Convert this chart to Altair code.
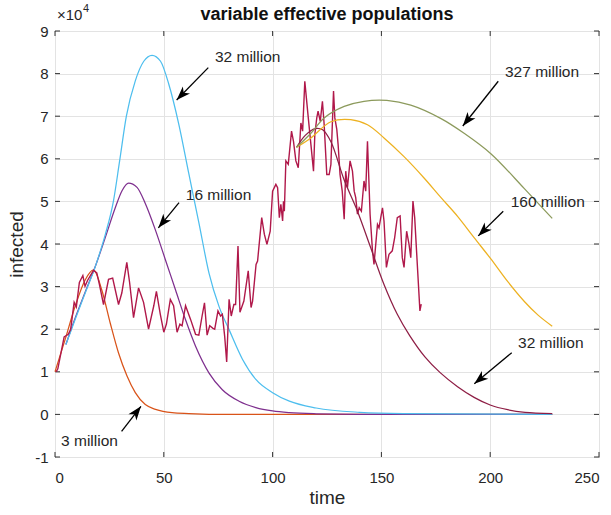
import math
import altair as alt
import pandas as pd

# ---------------- data (values in units of 1e4) ----------------
noise_t = [0.5, 1.3, 4.2, 6.1, 7.2, 8.8, 9.8, 11.2, 12.8, 13.8,
           15.0, 17.7, 19.2, 20.4, 22.3, 24.6, 26.5, 29.2, 30.7, 33.0,
           34.3, 36.1, 38.4, 40.7, 43.0, 45.4, 46.6, 48.4, 50.0, 51.2,
           53.0, 54.5, 56.1, 57.4, 58.4, 60.0, 62.3, 64.6, 66.1, 67.6,
           68.7, 69.9, 71.1, 72.6, 73.4, 74.9, 76.1, 76.9, 78.0, 78.9,
           80.0, 81.0, 82.2, 83.0, 84.1, 85.0, 86.8, 88.8, 90.1, 90.8,
           92.4, 93.1, 95.0, 96.2, 97.4, 98.9, 100.0, 101.5, 102.3, 103.1,
           103.8, 104.6, 105.0, 105.4, 106.1, 107.2, 108.7, 109.6, 110.7, 111.8,
           113.0, 113.8, 114.8, 116.1, 117.0, 117.6, 118.8, 119.4, 120.3, 120.9,
           121.9, 122.9, 123.7, 124.9, 126.0, 126.8, 128.0, 128.6, 129.5, 130.1,
           131.0, 132.0, 132.9, 133.6, 134.4, 135.6, 136.7, 137.5, 138.2, 139.0,
           139.8, 140.8, 142.0, 142.8, 143.6, 144.8, 145.9, 146.6, 148.2, 148.9,
           149.7, 150.5, 151.2, 152.3, 153.5, 155.0, 156.1, 157.3, 158.6, 159.6,
           160.4, 161.6, 162.7, 163.5, 164.5, 165.3, 166.5, 167.7, 168.3]
noise_y = [1.0, 1.07, 1.82, 1.88, 2.0, 2.63, 2.52, 3.1, 3.26, 3.01,
           3.15, 3.38, 3.32, 3.05, 2.58, 3.17, 3.2, 2.58, 2.85, 3.57,
           3.09, 2.27, 2.97, 2.63, 2.0, 2.55, 2.89, 2.35, 1.93, 2.12,
           2.7, 2.55, 1.93, 2.12, 2.08, 2.55, 2.23, 1.88, 1.86, 2.31,
           2.62, 1.86, 2.08, 2.02, 2.0, 2.43, 2.31, 2.35, 1.82, 1.23,
           2.7, 2.31, 2.58, 2.58, 3.95, 2.4, 2.66, 3.37, 2.51, 2.66,
           3.52, 3.6, 4.62, 4.23, 3.99, 4.3, 5.24, 5.4, 5.32, 4.62,
           4.93, 4.54, 5.0, 4.77, 5.95, 5.87, 6.65, 6.41, 5.95, 5.79,
           6.84, 6.65, 7.82, 7.12, 6.65, 6.34, 5.71, 6.57, 6.96, 7.12,
           6.88, 7.35, 6.8, 5.63, 5.63, 5.87, 7.59, 6.96, 6.69, 6.34,
           5.63, 5.24, 4.58, 5.71, 5.32, 5.95, 5.71, 5.24, 5.09, 4.7,
           4.85, 4.77, 5.48, 5.24, 6.41, 4.7, 3.84, 3.52, 4.46, 4.38,
           4.62, 4.85, 4.54, 3.45, 3.76, 3.84, 4.15, 4.62, 4.66, 3.68,
           3.45, 4.3, 3.99, 3.68, 5.01, 4.62, 3.52, 2.43, 2.59]

m3_t = [0, 4.6, 9.2, 13.8, 17.7, 21.5, 25.4, 29.2, 33.1, 36.9, 41.5, 46.2, 53.8, 61.5, 80, 120, 228.5]
m3_y = [1.0, 1.75, 2.53, 3.15, 3.39, 2.92, 2.14, 1.44, 0.9, 0.51, 0.23, 0.12, 0.04, 0.02, 0.0, 0.0, 0.0]

m16_t = [5, 9.2, 13.8, 18.5, 23.1, 27.7, 30.8, 33.8, 37.7, 41.5, 46.2, 50.8, 55.4, 60, 64.6,
         70.8, 76.9, 84.6, 92.3, 100, 107.7, 120, 140, 228.5]
m16_y = [1.64, 2.25, 2.86, 3.47, 4.15, 4.85, 5.25, 5.43, 5.33, 4.95, 4.32, 3.62, 2.92, 2.22, 1.6,
         0.97, 0.58, 0.31, 0.16, 0.08, 0.04, 0.015, 0.003, 0.0]

m32_t = [5, 9.2, 13.8, 18.5, 23.1, 26.9, 29.7, 32.8, 36.9, 40.8, 44.6, 48.5, 52.3, 56.9, 61.5,
         66.2, 70.8, 75.4, 80, 86.2, 92.3, 100, 107.7, 120, 140, 160, 228.5]
m32_y = [1.64, 2.22, 2.84, 3.47, 4.22, 5.02, 5.95, 7.0, 7.83, 8.29, 8.43, 8.29, 7.75, 6.81, 5.65,
         4.48, 3.31, 2.53, 1.99, 1.29, 0.82, 0.51, 0.31, 0.15, 0.05, 0.02, 0.0]

w32_t = [111, 115, 119.5, 123, 126.8, 132.9, 139, 145.1, 151.2, 157.3, 163, 170, 177,
         185, 192.6, 200, 208, 216, 228.5]
w32_y = [6.27, 6.55, 6.71, 6.68, 6.4, 5.5, 4.77, 3.91, 3.05, 2.35, 1.85, 1.35, 0.98,
         0.65, 0.4, 0.22, 0.11, 0.05, 0.02]

w160_t = [111, 117.6, 126.8, 135.9, 143.6, 151.2, 160.4, 169.6, 177.2, 185, 192.6, 200.3, 208, 215.7, 222, 228.5]
w160_y = [6.27, 6.49, 6.87, 6.92, 6.80, 6.49, 6.05, 5.55, 5.1, 4.65, 4.15, 3.65, 3.12, 2.65, 2.33, 2.07]

w327_t = [111, 117.6, 123.7, 132.9, 142, 152.5, 163.5, 177.2, 188, 200.3, 215.7, 228.5]
w327_y = [6.27, 6.6, 6.96, 7.23, 7.35, 7.37, 7.26, 6.95, 6.6, 6.12, 5.3, 4.6]

ann_label = ["32 million", "16 million", "327 million", "160 million", "32 million", "3 million"]
ann_text_t = [73.5, 60.1, 206.8, 209.4, 212.8, 2.8]
ann_text_y = [8.38, 5.16, 8.04, 4.98, 1.68, -0.63]
arrow_tail_t = [70.45, 57.0, 203.7, 206.0, 209.9, 30.6]
arrow_tail_y = [8.14, 4.97, 7.82, 4.77, 1.45, -0.40]
arrow_tip_t = [55.9, 47.5, 187.4, 194.5, 192.7, 39.5]
arrow_tip_y = [7.38, 4.38, 6.77, 4.19, 0.72, 0.19]

x_ticks = [0, 50, 100, 150, 200, 250]
y_ticks = [-1, 0, 1, 2, 3, 4, 5, 6, 7, 8, 9]

TITLE = "variable effective populations"

# ---------------- style ----------------
W, H = 544, 426
FONT = "Liberation Sans"
TXT = "#262626"
GRID = "#e3e3e3"

xs = alt.Scale(domain=[0, 250], nice=False, zero=False)
ys = alt.Scale(domain=[-1, 9], nice=False, zero=False)

x_axis = alt.Axis(values=x_ticks, grid=True, gridColor=GRID, gridWidth=1, domain=False,
                  ticks=False, tickSize=0, labelFontSize=15, labelColor=TXT, labelFont=FONT,
                  labelPadding=13, labelExpr="'' + datum.value", title="time",
                  titleFontSize=19, titleFontWeight="normal", titleColor=TXT, titleFont=FONT,
                  titlePadding=3)
y_axis = alt.Axis(values=y_ticks, grid=True, gridColor=GRID, gridWidth=1, domain=False,
                  ticks=False, tickSize=0, labelFontSize=15, labelColor=TXT, labelFont=FONT,
                  labelPadding=7, labelExpr="'' + datum.value", title="infected",
                  titleFontSize=19, titleFontWeight="normal", titleColor=TXT, titleFont=FONT,
                  titlePadding=8)


def X(field="t"):
    return alt.X(f"{field}:Q", scale=xs, axis=x_axis)


def Y(field="y"):
    return alt.Y(f"{field}:Q", scale=ys, axis=y_axis)


def curve(t, y, color, width=1.25, interp="monotone"):
    d = pd.DataFrame({"t": t, "y": y})
    return alt.Chart(d).mark_line(color=color, strokeWidth=width, interpolate=interp).encode(
        x=X(), y=Y())


xt = pd.DataFrame({"t": x_ticks})
yt = pd.DataFrame({"y": y_ticks})
tick_len = 5
tick_col = "#333333"
ticks = [
    alt.Chart(xt).mark_rule(color=tick_col, strokeWidth=1).encode(
        x=X(), y=alt.value(H), y2=alt.value(H - tick_len)),
    alt.Chart(xt).mark_rule(color=tick_col, strokeWidth=1).encode(
        x=X(), y=alt.value(0), y2=alt.value(tick_len)),
    alt.Chart(yt).mark_rule(color=tick_col, strokeWidth=1).encode(
        y=Y(), x=alt.value(0), x2=alt.value(tick_len)),
    alt.Chart(yt).mark_rule(color=tick_col, strokeWidth=1).encode(
        y=Y(), x=alt.value(W), x2=alt.value(W - tick_len)),
]

# arrows
px_t = W / 250.0
px_y = H / 10.0
angles = []
for t0, y0, t1, y1 in zip(arrow_tail_t, arrow_tail_y, arrow_tip_t, arrow_tip_y):
    dx = (t1 - t0) * px_t
    dy = -(y1 - y0) * px_y
    angles.append(math.degrees(math.atan2(dx, -dy)) % 360)

arr = pd.DataFrame({"t0": arrow_tail_t, "y0": arrow_tail_y, "t1": arrow_tip_t,
                    "y1": arrow_tip_y, "ang": angles})
shafts = alt.Chart(arr).mark_rule(color="black", strokeWidth=1.3).encode(
    x=X("t0"), y=Y("y0"), x2="t1:Q", y2="y1:Q")
head_path = "M0,0 L0.72,2 L0,1.45 L-0.72,2 Z"
heads = alt.Chart(arr).mark_point(shape=head_path, filled=True, color="black", opacity=1,
                                  size=196).encode(
    x=X("t1"), y=Y("y1"), angle=alt.Angle("ang:Q", scale=None))

ann = pd.DataFrame({"t": ann_text_t, "y": ann_text_y, "label": ann_label})
texts = alt.Chart(ann).mark_text(align="left", baseline="middle", fontSize=15.5, font=FONT,
                                 color=TXT).encode(x=X(), y=Y(), text="label:N")

one = pd.DataFrame({"a": [0]})
exp1 = alt.Chart(one).mark_text(align="left", baseline="middle", fontSize=15, font=FONT,
                                color=TXT, text="×10").encode(
    x=alt.value(2), y=alt.value(-16))
exp2 = alt.Chart(one).mark_text(align="left", baseline="middle", fontSize=11, font=FONT,
                                color=TXT, text="4").encode(
    x=alt.value(28), y=alt.value(-22))
title_mark = alt.Chart(one).mark_text(align="center", baseline="middle", fontSize=18,
                                      fontWeight="bold", font=FONT, color="#111111",
                                      text=TITLE).encode(
    x=alt.value(W / 2), y=alt.value(-16))

layers = ticks + [
    curve(m3_t, m3_y, "#D95319"),
    curve(m16_t, m16_y, "#7E2F8E"),
    curve(m32_t, m32_y, "#4DBEEE"),
    curve(noise_t, noise_y, "#B0184A", width=1.4, interp="linear"),
    curve(w32_t, w32_y, "#8E1E45", interp="catmull-rom"),
    curve(w160_t, w160_y, "#EDB120", interp="catmull-rom"),
    curve(w327_t, w327_y, "#8C9A5C", interp="catmull-rom"),
    shafts, heads, texts, exp1, exp2, title_mark,
]

chart = alt.layer(*layers).properties(
    width=W, height=H,
    autosize=alt.AutoSizeParams(type="none"),
    padding={"left": 55, "top": 31, "right": 12, "bottom": 58},
    background="white",
).configure_view(stroke="#262626", strokeWidth=1)

chart.save("out.html", embed_options={"renderer": "svg", "actions": False})
